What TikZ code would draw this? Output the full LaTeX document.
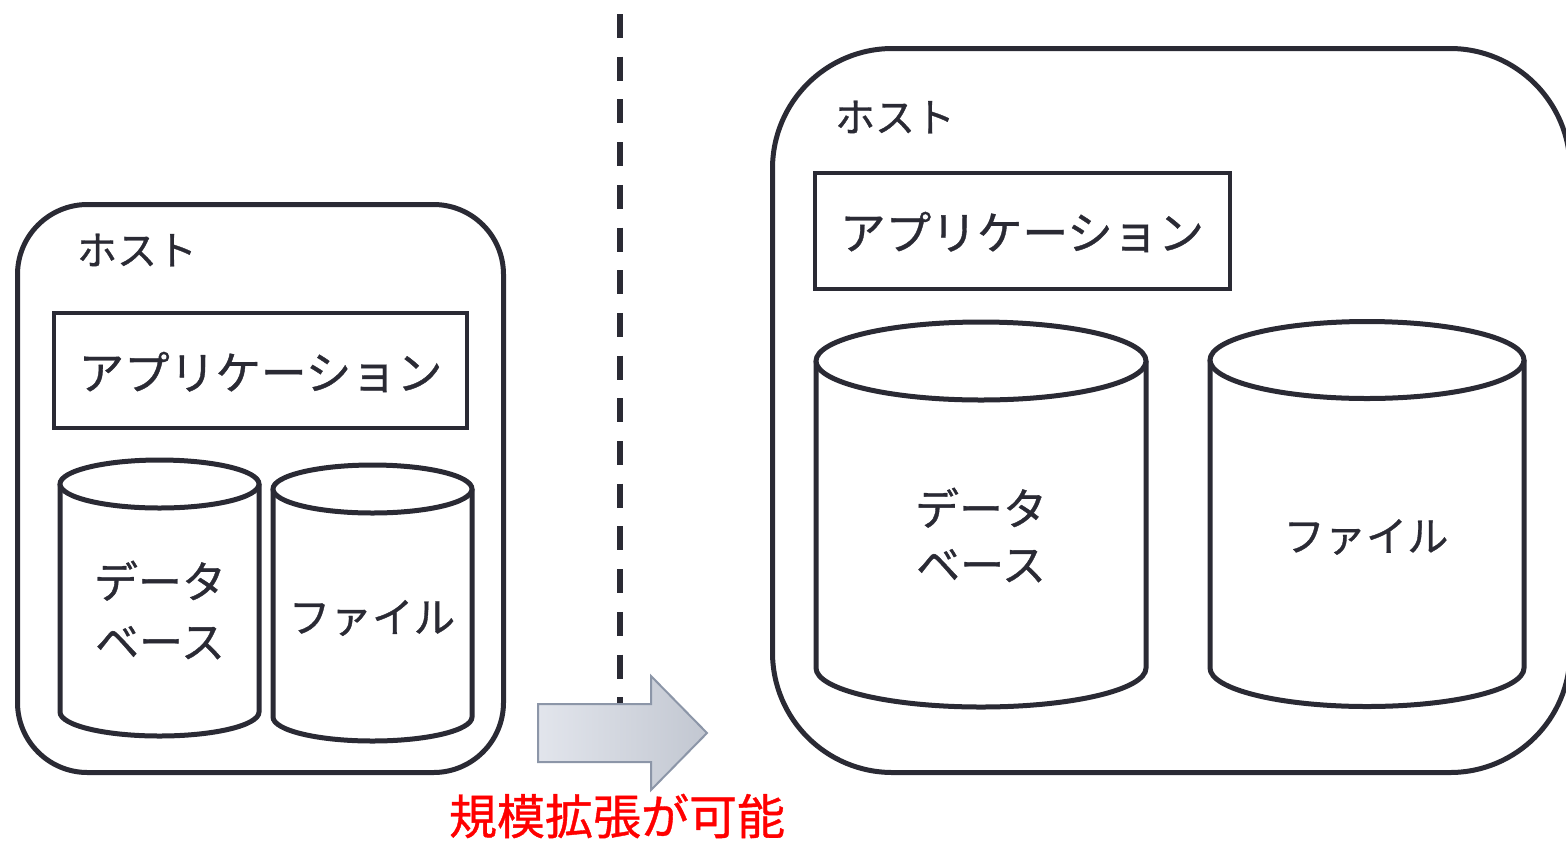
\documentclass[tikz,border=0pt]{standalone}
\usepackage{fontspec}
\newfontfamily\jp[FakeBold=0.8]{Noto Sans CJK JP}
\definecolor{ink}{RGB}{42,42,52}
\definecolor{arrL}{RGB}{226,229,236}
\definecolor{arrR}{RGB}{194,199,209}
\definecolor{arrB}{RGB}{140,150,168}
\newcommand{\mycyl}[5]{%
  \pgfmathsetmacro{\cylcx}{(#1+#2)/2}%
  \pgfmathsetmacro{\cylrx}{(#2-#1)/2}%
  \draw[cylline] (#1,-#3) -- (#1,-#4) arc[start angle=180,end angle=360,x radius=\cylrx,y radius=#5] -- (#2,-#3);
  \draw[cylline] (\cylcx,-#3) ellipse[x radius=\cylrx,y radius=#5];
}
\begin{document}
\begin{tikzpicture}[x=0.5pt,y=0.5pt,
  hostbox/.style={draw=ink,line width=2.5pt},
  appbox/.style={draw=ink,line width=2.2pt},
  cylline/.style={draw=ink,line width=2.5pt,fill=white},
  lbl/.style={text=ink,font=\jp,inner sep=0pt,align=center},
  dashline/.style={draw=ink,line width=3pt,dash pattern=on 12pt off 9.35pt}]
\useasboundingbox (0,0) rectangle (1566,-841);
% dashed divider
\coordinate (dtop) at (620,-14);
\coordinate (dbot) at (620,-704);
\draw[dashline] (dtop) -- (dbot);
% left host
\draw[hostbox,rounded corners=35pt] (17.5,-204.5) rectangle (503.5,-772.5);
\node[lbl,font=\jp\fontsize{20pt}{24pt}\selectfont] (hostL) at (137,-250) {ホスト};
\draw[appbox] (54,-313) rectangle (467,-428);
\node[lbl,font=\jp\fontsize{22.8pt}{26pt}\selectfont] (appL) at (260.5,-372) {アプリケーション};
\mycyl{60}{259}{484}{712}{24}
\mycyl{273}{472}{489}{717}{24}
\node[lbl,font=\jp\fontsize{22pt}{30pt}\selectfont] (dbL) at (160,-610) {データ\\ベース};
\node[lbl,font=\jp\fontsize{20.8pt}{24pt}\selectfont] (fileL) at (372,-618) {ファイル};
% right host
\draw[hostbox,rounded corners=60pt] (772.5,-48.5) rectangle (1570,-772.5);
\node[lbl,font=\jp\fontsize{20pt}{24pt}\selectfont] (hostR) at (895,-117) {ホスト};
\draw[appbox] (815,-173) rectangle (1230,-289);
\node[lbl,font=\jp\fontsize{22.8pt}{26pt}\selectfont] (appR) at (1022,-232) {アプリケーション};
\mycyl{816}{1146}{361}{668}{39}
\mycyl{1210}{1524}{360}{668}{38.5}
\node[lbl,font=\jp\fontsize{22pt}{28pt}\selectfont] (dbR) at (981,-535) {データ\\ベース};
\node[lbl,font=\jp\fontsize{20.6pt}{24pt}\selectfont] (fileR) at (1366,-537) {ファイル};
% arrow
\draw[draw=arrB,line width=1pt,left color=arrL,right color=arrR]
  (538,-704) -- (651,-704) -- (651,-676) -- (707,-733) -- (651,-790) -- (651,-762) -- (538,-762) -- cycle;
\node[lbl,text=red,font=\jp\fontsize{24pt}{28pt}\selectfont] (scale) at (617,-816) {規模拡張が可能};
\end{tikzpicture}
\end{document}
